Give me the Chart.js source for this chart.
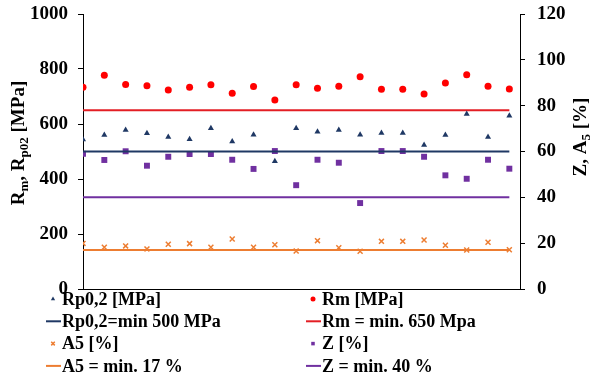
<!DOCTYPE html>
<html>
<head>
<meta charset="utf-8">
<script src="https://cdn.jsdelivr.net/npm/chart.js@4.4.1/dist/chart.umd.min.js"></script>
<style>
  html, body { margin: 0; padding: 0; background: #fff; }
  #wrap { width: 590px; height: 378px; position: relative; }
</style>
</head>
<body>
<div id="wrap"><canvas id="grafico" width="590" height="378"></canvas></div>
<script>
// datos (21 probetas)
const muestras = Array.from({ length: 21 }, (_, i) => i);
const rp02 = [544, 560, 578, 566, 553, 545, 585, 536, 561, 465, 585,
              572, 578, 561, 567, 567, 524, 560, 636, 553, 630];
const rm = [734, 777, 744, 739, 724, 734, 743, 712, 736, 687, 743,
            730, 737, 772, 726, 726, 709, 749, 779, 737, 727];
const a5 = [19.9, 18.2, 18.8, 17.5, 19.5, 19.8, 18.2, 21.8, 18.2, 19.3, 16.6,
            21.1, 18.0, 16.5, 20.8, 20.8, 21.4, 19.1, 17.0, 20.4, 17.1];
const z = [59.0, 56.3, 60.1, 53.8, 57.7, 58.9, 58.9, 56.4, 52.4, 60.2, 45.3,
           56.4, 55.1, 37.5, 60.2, 60.2, 57.7, 49.6, 48.1, 56.4, 52.5];
const minRp = 500, minRm = 650, minA5 = 17, minZ = 40;
const ticksMPa = [0, 200, 400, 600, 800, 1000];
const ticksPct = [0, 20, 40, 60, 80, 100, 120];

const fuente = '"Liberation Serif", "Times New Roman", serif';

function puntos(valores) {
    return valores.map((v, i) => ({ x: muestras[i], y: v }));
}
function linea(valor) {
    return [{ x: muestras[0], y: valor }, { x: muestras[muestras.length - 1], y: valor }];
}
function serieLinea(label, valor, color, eje) {
    return {
        label: label, data: linea(valor), yAxisID: eje, showLine: true,
        borderColor: color, backgroundColor: color, borderWidth: 2, pointRadius: 0
    };
}
function seriePuntos(label, valores, color, estilo, radio, eje) {
    return {
        label: label, data: puntos(valores), yAxisID: eje, showLine: false,
        pointStyle: estilo, pointRadius: radio, borderColor: color,
        backgroundColor: color, pointBorderWidth: estilo === 'crossRot' ? 1.5 : 0
    };
}

const chartData = {
    datasets: [
        seriePuntos('Rp0,2 [MPa]', rp02, '#1F3864', 'triangle', 3.5, 'y'),
        seriePuntos('Rm [MPa]', rm, '#FF0000', 'circle', 3.5, 'y'),
        serieLinea('Rp0,2=min 500 MPa', minRp, '#1F3864', 'y'),
        serieLinea('Rm = min. 650 Mpa', minRm, '#E31E24', 'y'),
        seriePuntos('A5 [%]', a5, '#ED7D31', 'crossRot', 3.5, 'y2'),
        seriePuntos('Z [%]', z, '#7030A0', 'rect', 4.2, 'y2'),
        serieLinea('A5 = min. 17 %', minA5, '#ED7D31', 'y2'),
        serieLinea('Z = min. 40 %', minZ, '#7030A0', 'y2')
    ]
};

// titulos de ejes con subindices
function dibujarTexto(ctx, partes, cx, cy) {
    const normal = 'bold 19px ' + fuente;
    const chico = 'bold 13px ' + fuente;
    let total = 0;
    partes.forEach(p => { ctx.font = p.sub ? chico : normal; total += ctx.measureText(p.t).width; });
    ctx.save();
    ctx.translate(cx, cy);
    ctx.rotate(-Math.PI / 2);
    ctx.fillStyle = '#000';
    ctx.textBaseline = 'alphabetic';
    let x = -total / 2;
    partes.forEach(p => {
        ctx.font = p.sub ? chico : normal;
        ctx.fillText(p.t, x, p.sub ? 10 : 6);
        x += ctx.measureText(p.t).width;
    });
    ctx.restore();
}

const pluginTitulos = {
    id: 'titulos',
    afterDraw(chart) {
        const ctx = chart.ctx;
        dibujarTexto(ctx, [{ t: 'R' }, { t: 'm', sub: true }, { t: ', R' }, { t: 'p02', sub: true }, { t: ' [MPa]' }], 18, 143);
        dibujarTexto(ctx, [{ t: 'Z, A' }, { t: '5', sub: true }, { t: ' [%]' }], 580, 137);
    }
};

// leyenda en dos columnas
const pluginLeyenda = {
    id: 'leyenda',
    afterDraw(chart) {
        const ctx = chart.ctx;
        chart.data.datasets.forEach((ds, i) => {
            const col = i % 2, fila = Math.floor(i / 2);
            const x0 = col ? 306 : 46;
            const y = 299 + fila * 22.3;
            ctx.save();
            if (ds.showLine) {
                ctx.strokeStyle = ds.borderColor;
                ctx.lineWidth = 2;
                ctx.beginPath();
                ctx.moveTo(x0, y);
                ctx.lineTo(x0 + 15, y);
                ctx.stroke();
            } else {
                ctx.fillStyle = ds.backgroundColor;
                ctx.strokeStyle = ds.borderColor;
                ctx.lineWidth = ds.pointBorderWidth || 1;
                Chart.helpers.drawPoint(ctx, { pointStyle: ds.pointStyle, radius: 2.5, rotation: 0, borderWidth: ds.pointBorderWidth }, x0 + 7, y);
            }
            ctx.fillStyle = '#000';
            ctx.font = 'bold 18px ' + fuente;
            ctx.textBaseline = 'middle';
            ctx.fillText(ds.label, x0 + 16, y + 1);
            ctx.restore();
        });
    }
};

// ancho fijo del eje y sin relleno extra arriba/abajo
function ajustarEje(ancho) {
    return s => {
        s.width = ancho;
        s.paddingTop = 0;
        s.paddingBottom = 0;
    };
}

function crearGrafico(id, data) {
    const ctx = document.getElementById(id);
    if (!ctx) {
        console.error(`No se encontró el canvas con id: ${id}`);
        return;
    }
    new Chart(ctx, {
        type: 'scatter',
        data: data,
        plugins: [pluginTitulos, pluginLeyenda],
        options: {
            responsive: false,
            animation: false,
            layout: { padding: { top: 14, bottom: 89, left: 0, right: 0 } },
            plugins: { legend: { display: false }, tooltip: { enabled: false } },
            scales: {
                x: {
                    type: 'linear', min: 0, max: 20.5,
                    ticks: { display: false },
                    grid: { display: false },
                    border: { display: true, color: '#000', width: 1 },
                    afterFit: s => { s.height = 0; }
                },
                y: {
                    position: 'left', min: 0, max: 1000,
                    afterBuildTicks: s => { s.ticks = ticksMPa.map(v => ({ value: v })); },
                    ticks: {
                        color: '#000', padding: 10, callback: v => String(v),
                        font: { family: fuente, size: 19, weight: 'bold' }
                    },
                    grid: { drawOnChartArea: false, tickLength: 5, color: '#000' },
                    border: { display: true, color: '#000', width: 1 },
                    afterFit: ajustarEje(83)
                },
                y2: {
                    position: 'right', min: 0, max: 120,
                    afterBuildTicks: s => { s.ticks = ticksPct.map(v => ({ value: v })); },
                    ticks: {
                        color: '#000', padding: 12, callback: v => String(v),
                        font: { family: fuente, size: 19, weight: 'bold' }
                    },
                    grid: { drawOnChartArea: false, tickLength: 5, color: '#000' },
                    border: { display: true, color: '#000', width: 1 },
                    afterFit: ajustarEje(70)
                }
            }
        }
    });
}

crearGrafico('grafico', chartData);
</script>
</body>
</html>
